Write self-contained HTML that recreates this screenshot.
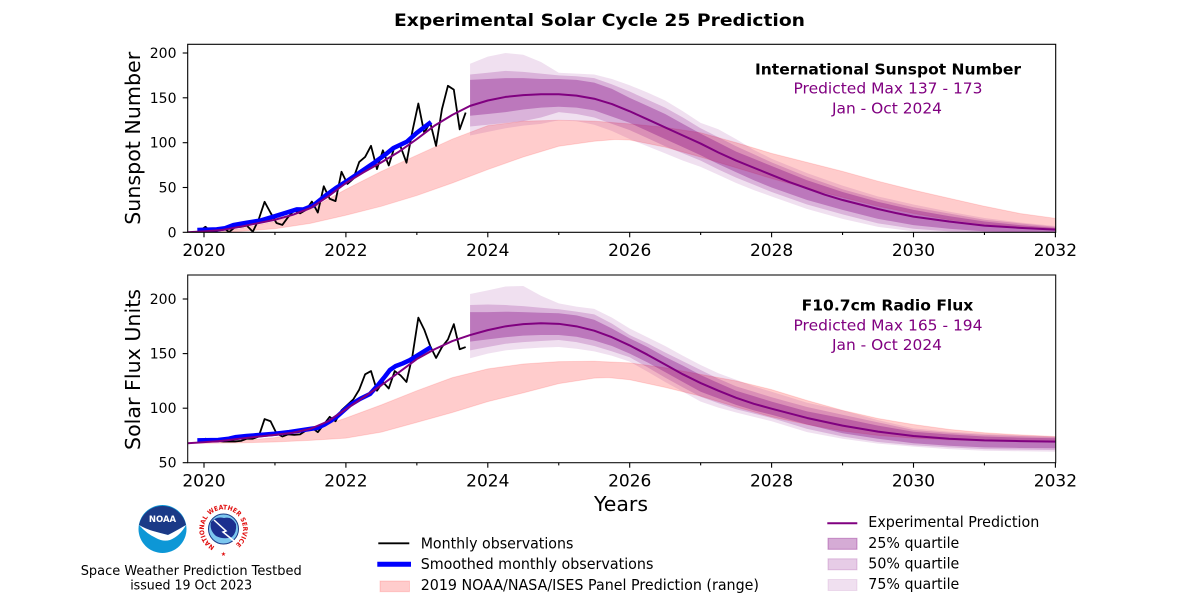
<!DOCTYPE html>
<html>
<head>
<meta charset="utf-8">
<style>
  html,body{margin:0;padding:0;background:#fff;}
  svg{display:block;}
  text{font-family:"DejaVu Sans","Liberation Sans",sans-serif;}
</style>
</head>
<body>
<svg width="1200" height="609" viewBox="0 0 1200 609" xmlns="http://www.w3.org/2000/svg">
<defs>
  <clipPath id="c1"><rect x="187.7" y="44.3" width="868" height="188"/></clipPath>
  <clipPath id="c2"><rect x="187.7" y="275" width="868" height="187.7"/></clipPath>
  <path id="nwsring" d="M 223.5,548.5 A 19.5,19.5 0 0 1 204,529 A 19.5,19.5 0 0 1 243,529 A 19.5,19.5 0 0 1 223.5,548.5"/>
</defs>
<rect width="1200" height="609" fill="#fff"/>

<!-- Title -->
<text x="599.5" y="26" font-size="17" font-weight="bold" text-anchor="middle" textLength="411" lengthAdjust="spacingAndGlyphs">Experimental Solar Cycle 25 Prediction</text>

<!-- ================= CHART 1 ================= -->
<g clip-path="url(#c1)">
 <g transform="translate(204 232.3) scale(70.95 -0.8965)">
  <polygon fill="#ff0000" fill-opacity="0.2" stroke="#ff0000" stroke-opacity="0.12" stroke-width="1" vector-effect="non-scaling-stroke"
   points="-0.235,0 0,1 0.5,4 1,12 1.5,26 2,48 2.5,68 3,86 3.5,104 4,119 4.5,124 5,125 5.5,124 6,121 6.5,117 7,111 7.5,100 8,88 8.5,78 9,68 9.5,57 10,47 10.5,38 11,29 11.5,21 12,15.6 12.3,13 12.3,3.5 12,4 11.5,6 11,9 10.5,14 10,21 9.5,29 9,39 8.5,49 8,60 7.5,72 7,84 6.5,95 6,103 5.8,103.5 5.5,101.5 5,96 4.5,84 4,70 3.5,55 3,41 2.5,29 2,19 1.5,10 1,4 0.5,1 0,0 -0.235,0"/>
  <polygon fill="#800080" fill-opacity="0.12"
   points="3.75,188 4,196 4.25,200 4.5,198 4.75,190 5,178 5.25,177 5.5,176 5.75,171 6,164 6.25,156 6.5,147 6.75,135 7,122 7.25,115 7.5,104 7.75,92 8,82 8.5,66 9,52 9.5,40 10,31 10.5,23 11,16 11.5,11 12,7 12,0 11.5,0 11,0 10.5,0 10,1 9.5,6 9,15 8.5,26 8,40 7.75,47 7.5,55 7.25,64 7,73 6.75,80 6.5,88 6.25,96 6,104 5.75,113 5.5,120 5.25,124 5,125 4.75,121 4.5,119 4.25,116 4,112 3.75,108"/>
  <polygon fill="#800080" fill-opacity="0.2"
   points="3.75,176 4,178 4.25,180 4.5,179 4.75,177 5,175 5.25,174 5.5,172 5.75,165 6,157 6.25,148 6.5,139 6.75,128 7,116 7.25,106 7.5,96 7.75,87 8,78 8.5,62 9,48 9.5,37 10,28 10.5,21 11,14 11.5,10 12,6 12,0 11.5,0 11,0 10.5,1 10,4 9.5,10 9,20 8.5,31 8,45 7.75,53 7.5,61 7.25,70 7,80 6.75,88 6.5,96 6.25,105 6,114 5.75,121 5.5,128 5.25,132 5,134 4.75,128 4.5,124 4.25,122 4,120 3.75,118"/>
  <polygon fill="#800080" fill-opacity="0.33"
   points="3.75,170 4,171 4.25,172 4.5,172 4.75,171 5,171 5.25,170 5.5,167 5.75,160 6,150 6.25,141 6.5,132 6.75,121 7,110 7.25,100 7.5,90 7.75,82 8,74 8.5,58 9,45 9.5,34 10,25 10.5,18 11,12 11.5,8 12,5 12,0 11.5,0 11,1 10.5,4 10,8 9.5,15 9,25 8.5,36 8,50 7.75,58 7.5,67 7.25,76 7,86 6.75,95 6.5,104 6.25,113 6,122 5.75,129 5.5,136 5.25,139 5,140 4.75,139 4.5,137 4.25,134 4,132 3.75,130"/>
  <polyline fill="none" stroke="#000" stroke-width="1.8" stroke-linejoin="round" vector-effect="non-scaling-stroke"
   points="-0.063,1.5 0.021,6.2 0.104,0.2 0.188,1.5 0.271,5.2 0.354,0.2 0.438,5.8 0.521,6.1 0.604,7.5 0.688,0.6 0.771,14.4 0.854,34 0.938,21.8 1.021,10.4 1.104,8.2 1.188,17.2 1.271,24.5 1.354,21.2 1.438,25 1.521,34.3 1.604,22 1.688,51.3 1.771,37.4 1.854,34.8 1.938,67.5 2.021,54 2.104,59.7 2.188,78.5 2.271,84.1 2.354,96.5 2.438,70.5 2.521,91.4 2.604,74.6 2.688,96 2.771,95.5 2.854,77.6 2.938,113.1 3.021,143.6 3.104,110.9 3.188,122.6 3.271,96.4 3.354,137.4 3.438,163.4 3.521,159.1 3.604,114.8 3.688,133.6"/>
  <polyline fill="none" stroke="#0000ff" stroke-width="4.5" stroke-linejoin="round" vector-effect="non-scaling-stroke"
   points="-0.094,2.5 0.179,3.3 0.296,4.5 0.413,8 0.602,10.7 0.79,13 0.977,17.4 1.166,22 1.307,25.6 1.4,25.5 1.541,30 1.73,42 1.871,50 2.012,57 2.2,67 2.387,77 2.576,88 2.67,94 2.858,101 3.0,111 3.2,123"/>
  <polyline fill="none" stroke="#800080" stroke-width="2" stroke-linejoin="round" vector-effect="non-scaling-stroke"
   points="-0.235,0 0,1 0.25,2.5 0.5,6 0.75,10 1,14 1.25,19.5 1.5,27 1.75,40 2,55 2.25,67 2.5,78 2.75,90 3,104 3.25,119 3.5,131 3.75,141 4,147 4.25,151 4.5,153 4.75,154 5,154 5.25,152.5 5.5,149 5.75,143 6,135 6.25,126 6.5,117 6.75,108 7,99 7.25,89 7.5,80 7.75,72 8,64 8.25,56 8.5,49 8.75,42 9,36 9.25,31 9.5,26 9.75,21.5 10,17.5 10.5,12 11,7.5 11.5,5 12,3"/>
 </g>
</g>
<rect x="187.7" y="44.3" width="868" height="188" fill="none" stroke="#000" stroke-width="1.1"/>
<g stroke="#000" stroke-width="1.1">
  <line x1="204" y1="232.3" x2="204" y2="237.3"/><line x1="345.9" y1="232.3" x2="345.9" y2="237.3"/>
  <line x1="487.8" y1="232.3" x2="487.8" y2="237.3"/><line x1="629.7" y1="232.3" x2="629.7" y2="237.3"/>
  <line x1="771.6" y1="232.3" x2="771.6" y2="237.3"/><line x1="913.5" y1="232.3" x2="913.5" y2="237.3"/>
  <line x1="1055.4" y1="232.3" x2="1055.4" y2="237.3"/>
  <line x1="274.95" y1="232.3" x2="274.95" y2="235"/><line x1="416.85" y1="232.3" x2="416.85" y2="235"/>
  <line x1="558.75" y1="232.3" x2="558.75" y2="235"/><line x1="700.65" y1="232.3" x2="700.65" y2="235"/>
  <line x1="842.55" y1="232.3" x2="842.55" y2="235"/><line x1="984.45" y1="232.3" x2="984.45" y2="235"/>
  <line x1="182.7" y1="232.3" x2="187.7" y2="232.3"/><line x1="182.7" y1="187.5" x2="187.7" y2="187.5"/>
  <line x1="182.7" y1="142.7" x2="187.7" y2="142.7"/><line x1="182.7" y1="97.8" x2="187.7" y2="97.8"/>
  <line x1="182.7" y1="53" x2="187.7" y2="53"/>
</g>
<g font-size="14" text-anchor="end" fill="#000">
  <text x="176.5" y="237.3">0</text><text x="176.5" y="192.5">50</text><text x="176.5" y="147.7">100</text>
  <text x="176.5" y="102.8">150</text><text x="176.5" y="58">200</text>
</g>
<g font-size="17" text-anchor="middle" fill="#000">
  <text x="204" y="256">2020</text><text x="345.9" y="256">2022</text><text x="487.8" y="256">2024</text>
  <text x="629.7" y="256">2026</text><text x="771.6" y="256">2028</text><text x="913.5" y="256">2030</text>
  <text x="1055.4" y="256">2032</text>
</g>
<text transform="translate(140 138.3) rotate(-90)" x="0" y="0" font-size="20.5" text-anchor="middle" textLength="173" lengthAdjust="spacingAndGlyphs">Sunspot Number</text>
<text x="888" y="74.3" font-size="15.5" font-weight="bold" text-anchor="middle" textLength="266" lengthAdjust="spacingAndGlyphs">International Sunspot Number</text>
<text x="888" y="93.5" font-size="15.5" fill="#800080" text-anchor="middle" textLength="189" lengthAdjust="spacingAndGlyphs">Predicted Max 137 - 173</text>
<text x="887" y="113.3" font-size="15.5" fill="#800080" text-anchor="middle" textLength="110" lengthAdjust="spacingAndGlyphs">Jan - Oct 2024</text>

<!-- ================= CHART 2 ================= -->
<g clip-path="url(#c2)">
 <g transform="translate(204 517.25) scale(70.95 -1.091)">
  <polygon fill="#ff0000" fill-opacity="0.2" stroke="#ff0000" stroke-opacity="0.12" stroke-width="1" vector-effect="non-scaling-stroke"
   points="-0.235,68 0,68.3 0.5,70 1,73 1.5,80 2,91 2.5,103 3,116 3.5,128 4,136 4.5,140.5 5,142.6 5.5,143 6,141.5 6.5,137 7,131 7.5,125 8,117 8.5,107 9,98 9.5,90.5 10,85 10.5,80.5 11,77.5 11.5,75.5 12,74 12.3,73 12.3,68.8 12,69 11,70 10.5,71 10,72.5 9.5,75 9,79 8.5,85 8,92 7.5,101 7,111 6.5,119 6,126 5.7,128 5.5,127.5 5,122.5 4.5,114 4,106 3.5,96 3,87 2.5,78 2,72.5 1.5,70.5 1,69 0.5,68.2 0,67.8 -0.235,67.5"/>
  <polygon fill="#800080" fill-opacity="0.12"
   points="3.75,204.6 4,208 4.25,211.5 4.5,212 4.75,203 5,196 5.25,193 5.5,191 5.75,183 6,173 6.25,165 6.5,157 6.75,148 7,139.5 7.25,132 7.5,126 7.75,120 8,115 8.5,105 9,98 9.5,89 10,81.5 10.5,78.5 11,76.5 11.5,75 12,74 12,60 11.5,60.5 11,61 10.5,62.5 10,64.7 9.5,67.5 9,72 8.5,78 8,88 7.75,92 7.5,96 7.25,100.5 7,106 6.75,115 6.5,124 6.25,133.5 6,142.6 5.75,148 5.5,152 5.25,154.5 5,156 4.75,155.5 4.5,154.5 4.25,153 4,150 3.75,145.7"/>
  <polygon fill="#800080" fill-opacity="0.2"
   points="3.75,194.5 4,195 4.25,194.5 4.5,193.5 4.75,192 5,190.6 5.25,188.5 5.5,186 5.75,177.5 6,167 6.25,159.5 6.5,151 6.75,143 7,135 7.25,127 7.5,120 7.75,115 8,110 8.5,101 9,94 9.5,87 10,80 10.5,77.5 11,75.5 11.5,74.5 12,73.5 12,61.5 11.5,62 11,62.5 10.5,64 10,66 9.5,69 9,74 8.5,81 8,91 7.75,95 7.5,99 7.25,104.5 7,110.5 6.75,119 6.5,128 6.25,137.5 6,146.6 5.75,152 5.5,157 5.25,160.5 5,162.5 4.75,161.5 4.5,160.5 4.25,159 4,156 3.75,153"/>
  <polygon fill="#800080" fill-opacity="0.33"
   points="3.75,188 4,188 4.25,188.4 4.5,188 4.75,187.5 5,187 5.25,185 5.5,181 5.75,173 6,164 6.25,156 6.5,147 6.75,139 7,130.4 7.25,123 7.5,116 7.75,111 8,106 8.5,97 9,90.7 9.5,84 10,78.4 10.5,76 11,74 11.5,73 12,72.4 12,63.2 11.5,63.5 11,64 10.5,65.5 10,67.8 9.5,72 9,77 8.5,85 8,94 7.75,98 7.5,103 7.25,109 7,115 6.75,124 6.5,133 6.25,142 6,150 5.75,157 5.5,162 5.25,165.5 5,167 4.75,167 4.5,166.5 4.25,165 4,163 3.75,161"/>
  <polyline fill="none" stroke="#000" stroke-width="1.8" stroke-linejoin="round" vector-effect="non-scaling-stroke"
   points="-0.063,70.5 0.021,72 0.104,71 0.188,70 0.271,69.5 0.354,69.5 0.438,69.5 0.521,70 0.604,72 0.688,72 0.771,74 0.854,90 0.938,88 1.021,77 1.104,74 1.188,76 1.271,75.5 1.354,76 1.438,79.5 1.521,82 1.604,78 1.688,85 1.771,92 1.854,88 1.938,98 2.021,103 2.104,108 2.188,117 2.271,131 2.354,134 2.438,116 2.521,124 2.604,118 2.688,134 2.771,130 2.854,124 2.938,148 3.021,183 3.104,172 3.188,157 3.271,146 3.354,156 3.438,163 3.521,177 3.604,154 3.688,156"/>
  <polyline fill="none" stroke="#0000ff" stroke-width="4.5" stroke-linejoin="round" vector-effect="non-scaling-stroke"
   points="-0.094,70.5 0.2,70.8 0.35,72 0.45,73.5 0.6,74.5 0.8,75.5 1.0,76.5 1.2,78 1.35,79.5 1.5,81 1.6,82 1.7,85 1.8,89 1.87,92 2.06,103 2.2,108.5 2.34,113 2.45,121 2.55,129 2.62,135 2.7,138.5 2.8,141 2.9,144 3.0,148 3.1,152 3.2,156"/>
  <polyline fill="none" stroke="#800080" stroke-width="2" stroke-linejoin="round" vector-effect="non-scaling-stroke"
   points="-0.235,67.8 0,68.8 0.25,70 0.5,72 0.75,73.8 1,75.5 1.25,77.5 1.5,81 1.75,88 2,99 2.25,110 2.5,121 2.75,133 3,145 3.25,154 3.5,161.5 3.75,167 4,171.5 4.25,175 4.5,177 4.75,177.8 5,177.3 5.25,175 5.5,171 5.75,165 6,157.5 6.25,149 6.5,140 6.75,131 7,123 7.25,116 7.5,109.5 7.75,104 8,99.5 8.5,91 9,84 9.5,78.5 10,74.5 10.5,72 11,70.5 11.5,69.8 12,69.3"/>
 </g>
</g>
<rect x="187.7" y="275" width="868" height="187.7" fill="none" stroke="#111" stroke-width="1.1"/>
<g stroke="#000" stroke-width="1.1">
  <line x1="204" y1="462.7" x2="204" y2="467.7"/><line x1="345.9" y1="462.7" x2="345.9" y2="467.7"/>
  <line x1="487.8" y1="462.7" x2="487.8" y2="467.7"/><line x1="629.7" y1="462.7" x2="629.7" y2="467.7"/>
  <line x1="771.6" y1="462.7" x2="771.6" y2="467.7"/><line x1="913.5" y1="462.7" x2="913.5" y2="467.7"/>
  <line x1="1055.4" y1="462.7" x2="1055.4" y2="467.7"/>
  <line x1="274.95" y1="462.7" x2="274.95" y2="465.4"/><line x1="416.85" y1="462.7" x2="416.85" y2="465.4"/>
  <line x1="558.75" y1="462.7" x2="558.75" y2="465.4"/><line x1="700.65" y1="462.7" x2="700.65" y2="465.4"/>
  <line x1="842.55" y1="462.7" x2="842.55" y2="465.4"/><line x1="984.45" y1="462.7" x2="984.45" y2="465.4"/>
  <line x1="182.7" y1="462.7" x2="187.7" y2="462.7"/><line x1="182.7" y1="408.2" x2="187.7" y2="408.2"/>
  <line x1="182.7" y1="353.6" x2="187.7" y2="353.6"/><line x1="182.7" y1="299" x2="187.7" y2="299"/>
</g>
<g font-size="14" text-anchor="end" fill="#000">
  <text x="176.5" y="467.7">50</text><text x="176.5" y="413.2">100</text>
  <text x="176.5" y="358.6">150</text><text x="176.5" y="304">200</text>
</g>
<g font-size="17" text-anchor="middle" fill="#000">
  <text x="204" y="486.5">2020</text><text x="345.9" y="486.5">2022</text><text x="487.8" y="486.5">2024</text>
  <text x="629.7" y="486.5">2026</text><text x="771.6" y="486.5">2028</text><text x="913.5" y="486.5">2030</text>
  <text x="1055.4" y="486.5">2032</text>
</g>
<text transform="translate(140 369.5) rotate(-90)" x="0" y="0" font-size="20.5" text-anchor="middle" textLength="161" lengthAdjust="spacingAndGlyphs">Solar Flux Units</text>
<text x="621" y="511" font-size="20" text-anchor="middle" textLength="54" lengthAdjust="spacingAndGlyphs">Years</text>
<text x="887.5" y="310.7" font-size="15.5" font-weight="bold" text-anchor="middle" textLength="171.7" lengthAdjust="spacingAndGlyphs">F10.7cm Radio Flux</text>
<text x="888" y="330.7" font-size="15.5" fill="#800080" text-anchor="middle" textLength="189" lengthAdjust="spacingAndGlyphs">Predicted Max 165 - 194</text>
<text x="887" y="350" font-size="15.5" fill="#800080" text-anchor="middle" textLength="110" lengthAdjust="spacingAndGlyphs">Jan - Oct 2024</text>

<!-- ================= LEGENDS ================= -->
<line x1="378.3" y1="543.3" x2="409.3" y2="543.3" stroke="#000" stroke-width="1.8"/>
<text x="420.7" y="548.3" font-size="14.7" textLength="152.7" lengthAdjust="spacingAndGlyphs">Monthly observations</text>
<line x1="377.3" y1="564.3" x2="411" y2="564.3" stroke="#0000ff" stroke-width="5"/>
<text x="420.7" y="569" font-size="14.7" textLength="232.7" lengthAdjust="spacingAndGlyphs">Smoothed monthly observations</text>
<rect x="380" y="581" width="29.5" height="10.7" fill="#ff0000" fill-opacity="0.2" stroke="#ff0000" stroke-opacity="0.15"/>
<text x="420.7" y="590" font-size="14.7" textLength="338.3" lengthAdjust="spacingAndGlyphs">2019 NOAA/NASA/ISES Panel Prediction (range)</text>

<line x1="827.3" y1="523.3" x2="857.3" y2="523.3" stroke="#800080" stroke-width="2"/>
<text x="868.3" y="527" font-size="14.7" textLength="171" lengthAdjust="spacingAndGlyphs">Experimental Prediction</text>
<rect x="828" y="538.3" width="29" height="11" fill="#800080" fill-opacity="0.33" stroke="#800080" stroke-opacity="0.35"/>
<text x="868.3" y="548" font-size="14.7" textLength="91" lengthAdjust="spacingAndGlyphs">25% quartile</text>
<rect x="828" y="558.8" width="29" height="11" fill="#800080" fill-opacity="0.2" stroke="#800080" stroke-opacity="0.2"/>
<text x="868.3" y="568.5" font-size="14.7" textLength="91" lengthAdjust="spacingAndGlyphs">50% quartile</text>
<rect x="828" y="579.5" width="29" height="11" fill="#800080" fill-opacity="0.12" stroke="#800080" stroke-opacity="0.1"/>
<text x="868.3" y="589.2" font-size="14.7" textLength="91" lengthAdjust="spacingAndGlyphs">75% quartile</text>

<!-- ================= LOGOS ================= -->
<circle cx="162.5" cy="529" r="24" fill="#0d97d6"/>
<path d="M139,525 A24,24 0 0 1 186,525 Q176,531 168,535 Q160,533 152,531 Q145,529 139,525 Z" fill="#1b3a87"/>
<path d="M139,525 Q146,529 153,531 Q160,533 168,535 Q176,531 186,525 Q180,536 170,540 Q163,542 156,538 Q147,534 139,525 Z" fill="#ffffff"/>
<text x="162.5" y="522" font-size="8.5" font-weight="bold" fill="#fff" text-anchor="middle">NOAA</text>

<circle cx="223.5" cy="529" r="26" fill="#fff"/>
<circle cx="223.5" cy="529" r="15" fill="#7cc7ef" stroke="#1b3a87" stroke-width="1"/>
<path d="M211,522 Q216,516 224,518 Q232,516 236,524 Q237,532 232,537 Q224,540 216,536 Q209,530 211,522 Z" fill="#1b2f8f"/>
<path d="M214,520 L226,531 L223,532 L234,541" fill="none" stroke="#fff" stroke-width="1.5"/>
<text font-size="6.5" font-weight="bold" fill="#e01010"><textPath href="#nwsring" startOffset="9" textLength="100" lengthAdjust="spacingAndGlyphs">NATIONAL WEATHER SERVICE</textPath></text>
<text x="223.5" y="556" font-size="6" fill="#e01010" text-anchor="middle">★</text>

<text x="191.2" y="575" font-size="13" text-anchor="middle" textLength="221" lengthAdjust="spacingAndGlyphs">Space Weather Prediction Testbed</text>
<text x="191.2" y="589.5" font-size="13" text-anchor="middle" textLength="122" lengthAdjust="spacingAndGlyphs">issued 19 Oct 2023</text>
</svg>
</body>
</html>
